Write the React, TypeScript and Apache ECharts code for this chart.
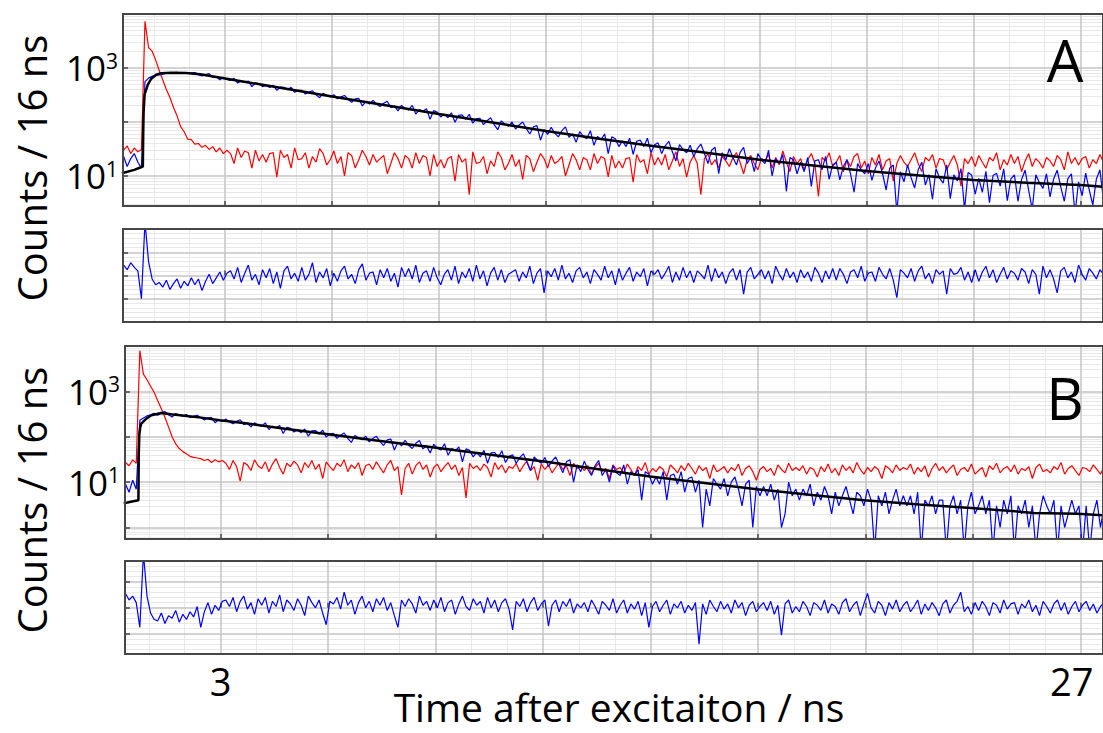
import React, { useEffect, useRef } from "react";
import * as echarts from "echarts";

// ---- time bins (ns) ----
const T0 = 0.15;
const DT = 0.1;

// ---- Panel A: decay traces (counts per bin) ----
const RED_A = [
  30, 36, 26, 33, 28, 31, 7300, 2400, 2050, 1400,
  900, 600, 400, 285, 185, 130, 82, 66, 48, 47,
  39, 40, 34, 37, 31, 35, 28, 33, 26, 30,
  26, 17, 33, 22, 29, 27, 14, 30, 19, 25,
  18, 26, 27, 9.5, 30, 22, 25, 14, 33, 20,
  21, 27, 14, 23, 18, 32, 26, 16, 20, 29,
  17, 23, 10, 27, 24, 14, 20, 30, 23, 16,
  25, 18, 21, 24, 11, 17, 27, 21, 14, 24,
  21, 14, 27, 17, 24, 22, 10, 25, 15, 20,
  14, 21, 23, 8, 25, 18, 21, 4.5, 28, 17,
  18, 23, 11, 19, 15, 28, 22, 13, 17, 25,
  15, 20, 8.6, 24, 21, 12, 18, 26, 21, 14,
  24, 17, 19, 23, 10, 16, 26, 20, 13, 22,
  20, 13, 26, 17, 23, 21, 9.6, 24, 14, 19,
  14, 21, 22, 7.7, 25, 18, 20, 11, 27, 16,
  22, 16, 25, 13, 19, 28, 15, 21, 9.5, 18,
  24, 17, 4.5, 21, 26, 16, 20, 14, 23, 19,
  15, 22, 27, 18, 11, 20, 24, 17, 13, 21,
  19, 25, 14, 22, 16, 29, 18, 12, 23, 17,
  21, 13, 20, 26, 17, 4.2, 22, 19, 27, 15,
  18, 24, 12, 20, 15, 23, 26, 14, 19, 11,
  22, 16, 25, 13, 19, 21, 8, 17, 24, 18,
  15, 20, 27, 17, 12, 22, 19, 25, 14, 21,
  20, 13, 18, 24, 16, 6.5, 21, 17, 23, 15,
  24, 18, 14, 22, 19, 27, 13, 20, 16, 25,
  17, 23, 12, 19, 26, 15, 21, 18, 14, 22,
  19, 15, 24, 20, 13, 28, 17, 22, 16, 21,
  23, 14, 20, 17, 25, 18,
];

const BLUE_A = [
  23, 15, 21, 26, 18, 14, 560, 650, 700, 740,
  745, 770, 810, 790, 818, 835, 800, 826, 790, 806,
  825, 754, 711, 758, 787, 671, 687, 608, 676, 615,
  588, 645, 526, 572, 540, 572, 451, 531, 510, 453,
  476, 436, 478, 386, 443, 440, 395, 439, 355, 385,
  387, 330, 357, 378, 319, 282, 339, 312, 292, 321,
  269, 292, 310, 263, 232, 267, 273, 198, 242, 215,
  252, 213, 193, 222, 242, 184, 198, 161, 203, 178,
  167, 203, 140, 170, 156, 177, 112, 162, 152, 124,
  140, 121, 148, 99, 133, 135, 112, 139, 95, 115,
  117, 89, 106, 120, 89, 72, 105, 91, 83, 100,
  74, 88, 100, 76, 60, 81, 86, 46, 72, 59,
  80, 62, 53, 69, 81, 52, 60, 42, 66, 54,
  49, 69, 37, 54, 47, 60, 26, 53, 49, 35,
  45, 35, 50, 25, 44, 46, 35, 50, 27, 38,
  41, 26, 36, 44, 28, 19, 38, 31, 27, 37,
  23, 32, 39, 26, 17, 30, 34, 11, 27, 20,
  32, 22, 16, 27, 34, 17, 22, 12, 26, 20,
  17, 30, 10, 21, 17, 25, 5.2, 22, 20, 11,
  18, 12, 22, 6.4, 19, 20, 13, 23, 8.7, 16,
  18, 8.5, 15, 20, 11, 5, 17, 13, 11, 17,
  8.3, 14, 19, 11, 5.5, 14, 16, 2.1, 12, 7.8,
  16, 9.3, 6, 13, 18, 6.8, 10.6, 3.7, 13.6, 9.1,
  7.4, 16, 3.8, 10.5, 8.1, 13.7, 2.4, 11.6, 10.4, 4.6,
  9, 5, 12.2, 3.2, 10.2, 11.2, 6.5, 13.6, 3.5, 8.8,
  10.5, 3.4, 8.6, 12.8, 5.4, 2.4, 10.5, 7.6, 5.9, 11,
  4.1, 8.8, 12.8, 6.3, 3.4, 8.9, 11, 2.0, 7.8, 4.3,
  11.3, 5.5, 2.9, 8.8, 13, 3.5,
];

const FIT_A_T = [0.1, 0.45, 0.69, 0.7, 0.71, 0.74, 0.83, 0.925, 1.065, 1.2, 1.5, 1.9, 2.3, 3, 4.5, 6, 7.5, 9, 10.5, 12, 13.5, 15, 16.5, 18, 19.5, 21, 22.5, 24, 25.5, 27, 27.7];
const FIT_A_V = [11.2, 13, 15, 60, 150, 325, 490, 632, 752, 800, 815, 805, 765, 640, 435, 297, 205, 141, 98, 68, 49, 36, 27, 20, 15.7, 12.4, 10.2, 8.4, 7.5, 6.8, 6.25];

// weighted residuals, panel A
const RES_A = [
  0.9, 0.5, 1.1, 0.7, 0.4, -2.0, 4.6, 1.2, -0.3, -0.8,
  -0.6, -1.0, -0.4, -1.2, -0.7, -0.3, -1.1, -0.5, -0.9, -0.2,
  -0.8, -0.3, -1.3, -0.5, 0.1, -0.7, -0.2, 0.3, -0.4, 0.2,
  0.4, -0.3, 0.7, -0.6, 0.2, 0.9, -0.4, 0.1, -0.8, 0.5,
  -0.2, 0.6, -0.7, 0.3, -1.1, 0.4, 0.8, -0.3, 0.2, -0.5,
  0.7, -0.4, 0.1, 1.1, -0.6, 0.3, -0.2, 0.6, -0.9, 0.2,
  -0.5, 0.4, 0.8, -0.3, 0.1, -0.7, 0.5, 1.0, -0.4, 0.2,
  0.3, -0.8, 0.5, -0.2, 0.6, -0.5, 0.2, -1.0, 0.7, -0.1,
  0.6, -0.3, 0.9, -0.6, 0.2, 0.4, -0.5, 0.7, -0.2, -0.8,
  0.1, 0.5, -0.4, 0.8, -0.7, 0.3, -0.2, 0.6, -0.5, 0.9,
  -0.3, 0.4, -0.9, 0.2, 0.7, -0.4, 0.5, -0.6, 0.1, 0.3,
  0.5, -0.5, 0.3, -0.2, 0.8, -0.7, 0.2, 0.6, -1.5, 0.4,
  -0.1, 0.6, -0.4, 0.9, -0.3, 0.2, -0.6, 0.4, 0.7, -0.2,
  0.3, -0.7, 0.5, 0.1, -0.4, 0.8, -0.2, 0.4, -0.8, 0.6,
  -0.4, 0.2, 0.7, -0.5, 0.3, -0.1, 0.6, -0.9, 0.4, 0.1,
  0.5, -0.3, 0.2, 0.8, -0.6, 0.3, -0.4, 0.7, -0.2, 0.4,
  -0.6, 0.4, 0.1, -0.3, 0.9, -0.5, 0.6, -0.2, 0.3, -0.7,
  0.2, 0.6, -0.4, 0.5, -1.6, 0.3, 0.7, -0.3, 0.1, 0.5,
  -0.3, 0.4, -0.7, 0.8, 0.1, -0.4, 0.6, -0.2, 0.3, -0.6,
  0.5, -0.2, 0.3, -0.5, 0.7, 0.2, -0.6, 0.4, -0.3, 0.6,
  -0.4, 0.6, 0.1, -0.7, 0.3, 0.5, -0.2, 0.8, -0.5, 0.2,
  0.3, -0.5, 0.7, 0.1, -0.3, 0.6, -0.4, -1.9, 0.5, 0.2,
  -0.2, 0.6, -0.5, 0.4, 0.8, -0.3, 0.2, -0.7, 0.5, 0.1,
  0.4, -1.6, 0.6, 0.1, 0.2, 0.7, -0.4, 0.3, -0.6, 0.5,
  -0.5, 0.3, 0.8, -0.2, 0.5, -0.6, 0.1, 0.7, -0.3, 0.4,
  0.2, -0.4, 0.6, 0.3, -0.7, 0.5, 0.1, -1.6, 0.8, -0.2,
  0.5, -0.3, -1.5, 0.4, 0.7, -0.2, 0.3, -0.6, 0.9, 0.1,
  -0.4, 0.6, 0.2, -0.3, 0.5, 0.1,
];

// ---- Panel B ----
const RED_B = [
  27, 24, 27, 23, 31, 26, 7900, 2400, 1800, 1300,
  950, 620, 415, 270, 165, 100, 70, 55, 47, 42,
  37, 35, 34, 33, 30, 32, 27, 31, 28, 30,
  26, 19, 30, 22, 10.5, 27, 24, 18, 31, 23,
  20, 28, 17, 25, 33, 21, 15, 26, 22, 29,
  24, 16, 27, 21, 30, 19, 25, 12, 28, 22,
  18, 26, 22, 31, 17, 24, 20, 27, 14, 23,
  25, 19, 28, 21, 16, 24, 30, 18, 22, 5.2,
  20, 26, 15, 23, 28, 19, 24, 13, 21, 25,
  17, 22, 27, 19, 24, 14, 21, 4.5, 26, 20,
  23, 18, 25, 21, 13, 27, 19, 24, 16, 22,
  20, 26, 17, 23, 29, 18, 22, 11, 25, 19,
  24, 16, 21, 27, 19, 23, 14, 26, 20, 22,
  18, 23, 15, 21, 26, 17, 20, 12, 24, 19,
  21, 16, 25, 19, 14, 22, 18, 27, 15, 20,
  17, 22, 19, 13, 24, 20, 16, 23, 18, 26,
  20, 15, 23, 18, 21, 12, 24, 17, 19, 22,
  16, 21, 18, 25, 14, 20, 23, 17, 11, 19,
  22, 17, 20, 14, 24, 19, 16, 26, 18, 21,
  18, 23, 15, 21, 19, 13, 22, 17, 25, 16,
  20, 14, 24, 18, 22, 16, 27, 19, 15, 21,
  17, 22, 19, 12, 23, 20, 16, 24, 18, 21,
  19, 25, 15, 21, 17, 23, 13, 20, 26, 18,
  22, 16, 20, 24, 14, 19, 21, 17, 25, 15,
  18, 21, 13, 23, 19, 26, 16, 20, 22, 17,
  24, 15, 20, 18, 22, 12, 21, 25, 17, 19,
  16, 22, 19, 27, 15, 20, 23, 18, 14, 21,
  20, 17, 24, 19, 15, 22,
];

// 0.3 = empty bin (drawn below the axis floor)
const BLUE_B = [
  8, 10, 9, 6, 11, 7, 230, 258, 288, 303,
  327, 298, 339, 357, 305, 273, 324, 301, 285, 310,
  264, 284, 298, 261, 235, 262, 264, 204, 238, 216,
  245, 211, 193, 219, 237, 185, 198, 165, 203, 180,
  170, 202, 144, 171, 158, 177, 118, 162, 154, 127,
  142, 123, 148, 103, 135, 137, 115, 140, 98, 116,
  119, 92, 108, 121, 92, 75, 107, 95, 86, 103,
  77, 91, 102, 79, 64, 85, 89, 51, 76, 63,
  83, 65, 55, 72, 83, 54, 63, 44, 68, 56,
  51, 70, 39, 55, 49, 60, 28, 54, 50, 36,
  45, 36, 50, 26, 44, 45, 35, 49, 27, 37,
  40, 26, 35, 42, 27, 18, 36, 30, 26, 35,
  22, 29, 36, 24, 16, 28, 31, 10, 24, 17,
  29, 19, 14, 23, 30, 14, 19, 10, 23, 16,
  14, 24, 9, 17, 14, 19, 4, 17, 15, 9,
  13, 9, 17, 4, 14, 15, 9, 17, 6, 12,
  13, 6, 11, 1, 7, 3, 12, 9, 7, 12,
  5, 10, 13, 7, 3, 9, 11, 1, 8, 5,
  8, 5, 9, 4, 7, 1, 2, 10, 5, 7,
  4, 7, 5, 9, 3, 6, 4, 8, 5, 2,
  6, 3, 5, 8, 4, 2, 6, 5, 3, 7,
  4, 0.3, 5, 3, 6, 2, 4, 7, 3, 5,
  3, 5, 2, 6, 0.3, 4, 3, 5, 2, 4,
  4, 0.3, 3, 5, 2, 4, 0.3, 3, 6, 2,
  3, 5, 2, 4, 0.3, 3, 1, 4, 2, 5,
  0.3, 3, 2, 4, 1, 3, 0.3, 2, 5, 3,
  2, 4, 0.3, 3, 1, 2, 4, 2, 3, 0.3,
  3, 0.3, 2, 4, 1, 3,
];

const FIT_B_T = [0.3, 0.5, 0.71, 0.72, 0.735, 0.76, 0.79, 0.93, 1.07, 1.35, 1.62, 2.0, 2.46, 2.98, 3.76, 4.8, 6.0, 7.4, 8.91, 10.86, 12.08, 13.5, 14.98, 16.5, 17.97, 19.5, 20.96, 22.5, 23.94, 25.7, 26.9, 27.7];
const FIT_B_V = [3.4, 3.7, 4.0, 40, 110, 160, 195, 250, 297, 333, 313, 290, 264, 230, 195, 150, 114, 82, 59, 37, 28, 19.5, 13.3, 9.6, 7.0, 5.2, 4.0, 3.2, 2.7, 2.1, 2.0, 1.85];

const RES_B = [
  1.0, 0.8, 1.1, 0.6, 0.9, 0.4, -1.5, 4.2, 0.9, -0.4,
  -0.9, -1.0, -0.4, -1.2, -0.6, -0.8, -0.2, -1.1, -0.5, -0.9,
  -0.3, -0.7, 0.1, -1.5, -0.3, 0.4, -0.5, 0.2, -0.2, 0.5,
  0.6, 0.1, 0.8, -0.3, 0.5, 0.9, -0.1, 0.4, -0.5, 0.7,
  0.2, 0.8, -0.4, 0.5, 0.1, 1.0, -0.3, 0.6, 0.3, -0.2,
  0.7, 0.2, -0.6, 0.9, 0.4, 0.0, 0.6, -0.4, -1.3, 0.5,
  0.3, 0.8, -0.1, 1.2, 0.2, 0.6, -0.5, 0.4, 0.9, 0.0,
  0.5, -0.3, 0.7, 0.2, 0.8, -0.2, 0.4, -0.6, -1.5, 0.6,
  0.1, 0.7, 0.3, -0.4, 0.9, 0.2, 0.5, -0.2, 0.6, 0.0,
  0.8, -0.3, 0.4, 0.6, -0.5, 0.3, 0.9, 0.1, -0.2, 0.7,
  0.2, 0.5, -0.4, 0.8, 0.0, 0.6, -0.3, 0.4, 0.7, -0.1,
  -1.7, 0.5, 0.1, 0.7, -0.3, 0.4, 0.8, -0.2, 0.3, 0.6,
  -1.4, 0.2, 0.6, -0.3, 0.5, 0.1, 0.7, -0.4, 0.3, 0.0,
  0.4, -0.3, 0.6, 0.1, -0.5, 0.5, 0.2, -0.2, 0.7, -0.4,
  0.2, 0.6, -0.4, 0.3, -0.1, 0.5, -0.6, 0.4, -1.5, 0.1,
  0.5, -0.3, 0.2, 0.6, -0.5, 0.3, 0.0, 0.5, -0.4, 0.2,
  -0.2, 0.4, -2.8, 0.3, -0.5, 0.6, 0.1, -0.3, 0.5, -0.1,
  0.3, -0.4, 0.6, 0.0, 0.4, -0.6, 0.2, 0.5, -0.3, 0.1,
  0.4, -0.2, 0.5, -0.5, 0.2, -2.1, 0.3, 0.6, -0.4, 0.1,
  -0.3, 0.5, 0.1, -0.6, 0.4, 0.2, -0.2, 0.6, -0.4, 0.3,
  0.1, -0.5, 0.4, 0.7, -0.3, 0.2, 0.5, -0.6, 0.3, 1.1,
  0.0, -0.4, 0.5, 0.2, -0.6, 0.4, -0.1, 0.6, -0.3, 0.2,
  0.5, -0.3, 0.1, 0.6, -0.5, 0.3, -0.2, 0.4, 0.0, -0.6,
  0.3, 0.6, -0.4, 0.2, 0.5, 1.2, -0.3, 0.1, -0.5, 0.4,
  -0.2, 0.5, 0.1, -0.6, 0.4, 0.2, -0.4, 0.6, -0.1, 0.3,
  0.4, -0.5, 0.3, 0.0, 0.6, -0.3, 0.2, -0.6, 0.5, 0.1,
  -0.4, 0.3, 0.6, -0.2, 0.4, -0.5, 0.1, 0.5, -0.3, 0.2,
  0.5, -0.2, 0.3, -0.4, 0.1, 0.4,
];

// ---- axis ticks ----
const X_TICKS = [3, 6, 9, 12, 15, 18, 21, 24, 27];
const X_LABELS = [3, 27];
const X_MINOR = [1, 2, 4, 5, 7, 8, 10, 11, 13, 14, 16, 17, 19, 20, 22, 23, 25, 26];
const Y_LABEL_EXP = [1, 3];
const RES_TICKS = [-2, 0, 2];
const RES_MINOR = [-3.6, -3.2, -2.8, -2.4, -1.6, -1.2, -0.8, -0.4, 0.4, 0.8, 1.2, 1.6, 2.4, 2.8, 3.2, 3.6];
const LOG_MINOR_STEPS = [2, 3, 4, 5, 6, 7, 8, 9];
const LOG_DECADES = [0.1, 1, 10, 100, 1000];

const FONT = '"Open Sans", "Noto Sans", "DejaVu Sans", sans-serif';
const MAJOR = "#c4c4c4";
const MINOR = "#e8e8e8";
const FRAME = "#474747";
const RED = "#ff0000";
const BLUE = "#0000ff";

const TIME = RED_A.map((_, i) => Math.round((T0 + i * DT) * 100) / 100);
const binned = (vals: number[]) => vals.map((v, i) => [TIME[i], v]);
const paired = (ts: number[], vs: number[]) => ts.map((t, i) => [t, vs[i]]);

type Panel = {
  kind: "decay" | "res";
  left: number;
  top: number;
  height: number;
  xMin: number;
  xMax: number;
  yMin: number;
  yMax: number;
};

const PANELS: Panel[] = [
  { kind: "decay", left: 123, top: 14, height: 192, xMin: 0.133, xMax: 27.636, yMin: 2.78, yMax: 10000 },
  { kind: "res", left: 123, top: 229, height: 93, xMin: 0.133, xMax: 27.636, yMin: -4, yMax: 4 },
  { kind: "decay", left: 125, top: 346, height: 193, xMin: 0.336, xMax: 27.62, yMin: 0.558, yMax: 10000 },
  { kind: "res", left: 125, top: 561, height: 93, xMin: 0.336, xMax: 27.62, yMin: -3.55, yMax: 3.6 },
];

function buildOption() {
  const grid: any[] = [];
  const xAxis: any[] = [];
  const yAxis: any[] = [];

  PANELS.forEach((p, i) => {
    grid.push({
      left: p.left,
      right: -2,
      top: p.top,
      height: p.height,
      show: true,
      backgroundColor: "transparent",
      borderColor: FRAME,
      borderWidth: 2,
      z: 5,
    });
    const isBottom = i === PANELS.length - 1;
    // minor x grid
    xAxis.push({
      type: "value",
      gridIndex: i,
      position: "top",
      min: p.xMin,
      max: p.xMax,
      z: 0,
      axisLine: { show: false },
      axisTick: { show: false, customValues: X_MINOR },
      axisLabel: { show: false, customValues: X_MINOR },
      splitLine: { show: true, lineStyle: { color: MINOR, width: 1 } },
    });
    // main x axis
    xAxis.push({
      type: "value",
      gridIndex: i,
      position: "bottom",
      min: p.xMin,
      max: p.xMax,
      z: 1,
      axisLine: { show: false },
      axisTick: {
        show: true,
        inside: true,
        length: 5,
        customValues: X_TICKS,
        lineStyle: { color: FRAME, width: 1.5 },
      },
      axisLabel: {
        show: isBottom,
        customValues: X_LABELS,
        margin: 8,
        fontSize: 38,
        fontFamily: FONT,
        color: "#000",
        formatter: (v: number) => (Math.round(v) === 27 ? "{r|27}" : String(Math.round(v))),
        rich: { r: { fontSize: 38, fontFamily: FONT, color: "#000", padding: [0, 18, 0, 0] } },
      },
      splitLine: { show: true, lineStyle: { color: MAJOR, width: 1.5 } },
    });

    if (p.kind === "decay") {
      const minor = LOG_DECADES.flatMap((d) => LOG_MINOR_STEPS.map((k) => +(k * d).toPrecision(3))).filter(
        (v) => v > p.yMin && v < p.yMax
      );
      yAxis.push({
        type: "log",
        logBase: 10,
        gridIndex: i,
        position: "right",
        min: p.yMin,
        max: p.yMax,
        z: 0,
        axisLine: { show: false },
        axisTick: { show: false, customValues: minor },
        axisLabel: { show: false, customValues: minor },
        splitLine: { show: true, lineStyle: { color: MINOR, width: 1 } },
      });
      yAxis.push({
        type: "log",
        logBase: 10,
        gridIndex: i,
        position: "left",
        min: p.yMin,
        max: p.yMax,
        z: 1,
        axisLine: { show: false },
        axisTick: { show: true, inside: true, length: 5, lineStyle: { color: FRAME, width: 1.5 } },
        axisLabel: {
          show: true,
          margin: 5,
          fontSize: 35,
          fontFamily: FONT,
          color: "#000",
          formatter: (v: number) => {
            const l = Math.log10(v);
            const e = Math.round(l);
            if (Math.abs(l - e) > 1e-3) return "";
            return Y_LABEL_EXP.includes(e) ? `10{s|${e}}` : "";
          },
          rich: { s: { fontSize: 21, fontFamily: FONT, color: "#000", verticalAlign: "top" } },
        },
        splitLine: { show: true, lineStyle: { color: MAJOR, width: 1.5 } },
      });
    } else {
      const minor = RES_MINOR.filter((v) => v > p.yMin && v < p.yMax);
      yAxis.push({
        type: "value",
        gridIndex: i,
        position: "right",
        min: p.yMin,
        max: p.yMax,
        z: 0,
        axisLine: { show: false },
        axisTick: { show: false, customValues: minor },
        axisLabel: { show: false, customValues: minor },
        splitLine: { show: true, lineStyle: { color: MINOR, width: 1 } },
      });
      yAxis.push({
        type: "value",
        gridIndex: i,
        position: "left",
        min: p.yMin,
        max: p.yMax,
        z: 1,
        axisLine: { show: false },
        axisTick: {
          show: true,
          inside: true,
          length: 5,
          customValues: RES_TICKS,
          lineStyle: { color: FRAME, width: 1.5 },
        },
        axisLabel: { show: false, customValues: RES_TICKS },
        splitLine: { show: true, lineStyle: { color: MAJOR, width: 1.5 } },
      });
    }
  });

  const line = (name: string, data: number[][], color: string, width: number, panel: number, z: number) => ({
    type: "line",
    name,
    data,
    xAxisIndex: panel * 2 + 1,
    yAxisIndex: panel * 2 + 1,
    showSymbol: false,
    symbol: "none",
    clip: true,
    silent: true,
    z,
    lineStyle: { color, width },
    itemStyle: { color },
  });

  const series = [
    line("IRF A", binned(RED_A), RED, 1.2, 0, 2),
    line("Decay A", binned(BLUE_A), BLUE, 1.2, 0, 3),
    line("Fit A", paired(FIT_A_T, FIT_A_V), "#000", 2.5, 0, 4),
    line("Residuals A", binned(RES_A), BLUE, 1.2, 1, 3),
    line("IRF B", binned(RED_B), RED, 1.2, 2, 2),
    line("Decay B", binned(BLUE_B), BLUE, 1.2, 2, 3),
    line("Fit B", paired(FIT_B_T, FIT_B_V), "#000", 2.5, 2, 4),
    line("Residuals B", binned(RES_B), BLUE, 1.2, 3, 3),
  ];

  const txt = (text: string, x: number, y: number, size: number, rotation = 0) => ({
    type: "text",
    x,
    y,
    rotation,
    z: 10,
    style: {
      text,
      fontSize: size,
      fontFamily: FONT,
      fill: "#000",
      align: "center",
      verticalAlign: "middle",
    },
  });

  return {
    animation: false,
    backgroundColor: "#ffffff",
    grid,
    xAxis,
    yAxis,
    series,
    graphic: [
      txt("Counts / 16 ns", 31, 168, 40, Math.PI / 2),
      txt("Counts / 16 ns", 31, 500, 40, Math.PI / 2),
      txt("A", 1065, 59, 58),
      txt("B", 1065, 397, 58),
      txt("Time after excitaiton / ns", 619, 706, 39),
    ],
  };
}

export default function App() {
  const ref = useRef<HTMLDivElement>(null);
  useEffect(() => {
    if (!ref.current) return;
    const chart = echarts.init(ref.current, undefined, { renderer: "svg" });
    chart.setOption(buildOption() as any);
    return () => chart.dispose();
  }, []);
  return (
    <div
      ref={ref}
      style={{ position: "fixed", left: 0, top: 0, width: 1103, height: 733, background: "#ffffff" }}
    />
  );
}
